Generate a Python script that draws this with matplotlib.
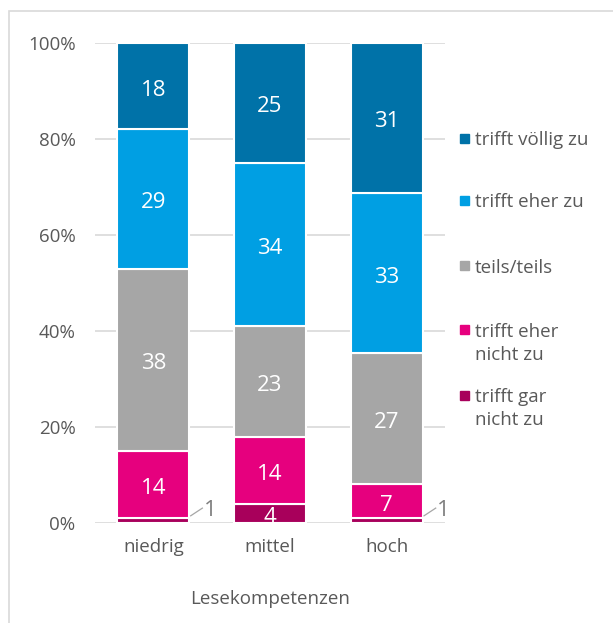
import matplotlib.pyplot as plt
import matplotlib.patches as mpatches
import numpy as np

plt.rcParams['font.family'] = ['Open Sans', 'DejaVu Sans']

groups = ['niedrig', 'mittel', 'hoch']
categories = ['trifft gar nicht zu', 'trifft eher nicht zu', 'teils/teils',
              'trifft eher zu', 'trifft völlig zu']
legend_labels = ['trifft gar\nnicht zu', 'trifft eher\nnicht zu', 'teils/teils',
                 'trifft eher zu', 'trifft völlig zu']
values = np.array([
    [1, 4, 1],
    [14, 14, 7],
    [38, 23, 27],
    [29, 34, 33],
    [18, 25, 31],
])
colors = ['#A8005B', '#E6007E', '#A6A6A6', '#009FE3', '#0072A8']
text_grey = '#595959'

shares = values / values.sum(axis=0) * 100

fig = plt.figure(figsize=(6.13, 6.23), dpi=100)
ax = fig.add_axes([0.155, 0.1605, 0.571, 0.7705])

x = np.arange(len(groups))
bottom = np.zeros(len(groups))
for i, cat in enumerate(categories):
    ax.bar(x, shares[i], 0.615, bottom=bottom, color=colors[i],
           edgecolor='white', linewidth=1.5, zorder=3)
    for j in range(len(groups)):
        v = values[i, j]
        mid = bottom[j] + shares[i, j] / 2
        if v >= 3:
            ax.text(x[j], mid - 0.8, str(v), ha='center', va='center',
                    color='white', fontsize=16, zorder=4)
        else:
            ax.plot([x[j] + 0.32, x[j] + 0.42], [mid + 1.0, mid + 2.6],
                    color='#A6A6A6', lw=0.9, zorder=4)
            ax.text(x[j] + 0.43, mid + 2.2, str(v), ha='left', va='center',
                    color='#7F7F7F', fontsize=16, zorder=4)
    bottom += shares[i]

ax.set_xlim(-0.5, 2.5)
ax.set_ylim(0, 100)
ax.set_yticks(np.arange(0, 101, 20))
ax.set_yticklabels([f'{t}%' for t in range(0, 101, 20)])
ax.set_xticks(x)
ax.set_xticklabels(groups)
ax.tick_params(length=0, labelsize=13.5, colors=text_grey)
ax.tick_params(axis='y', pad=14)
ax.tick_params(axis='x', pad=11)
ax.yaxis.grid(True, color='#D9D9D9', lw=1.2, zorder=0)
for s in ax.spines.values():
    s.set_visible(False)
ax.set_xlabel('Lesekompetenzen', fontsize=13.5, color=text_grey, labelpad=24)

# legend, top entry first
leg_y = [138, 200, 266, 330, 395]
for k, idx in enumerate(range(len(categories) - 1, -1, -1)):
    yf = 1 - leg_y[k] / 623
    fig.patches.append(mpatches.Rectangle((460 / 613, yf - 4.5 / 623), 9 / 613, 9 / 623,
                                          transform=fig.transFigure,
                                          color=colors[idx]))
    fig.text(475 / 613, yf + 7 / 623, legend_labels[idx], ha='left', va='top',
             fontsize=13.5, color=text_grey, linespacing=1.35)

# outer frame
fig.patches.append(mpatches.Rectangle((9 / 613, -0.01), 1.0, 1 - 11 / 623 + 0.01,
                                      transform=fig.transFigure, fill=False,
                                      edgecolor='#D9D9D9', lw=1.2))

plt.savefig('out.png', dpi=100)
